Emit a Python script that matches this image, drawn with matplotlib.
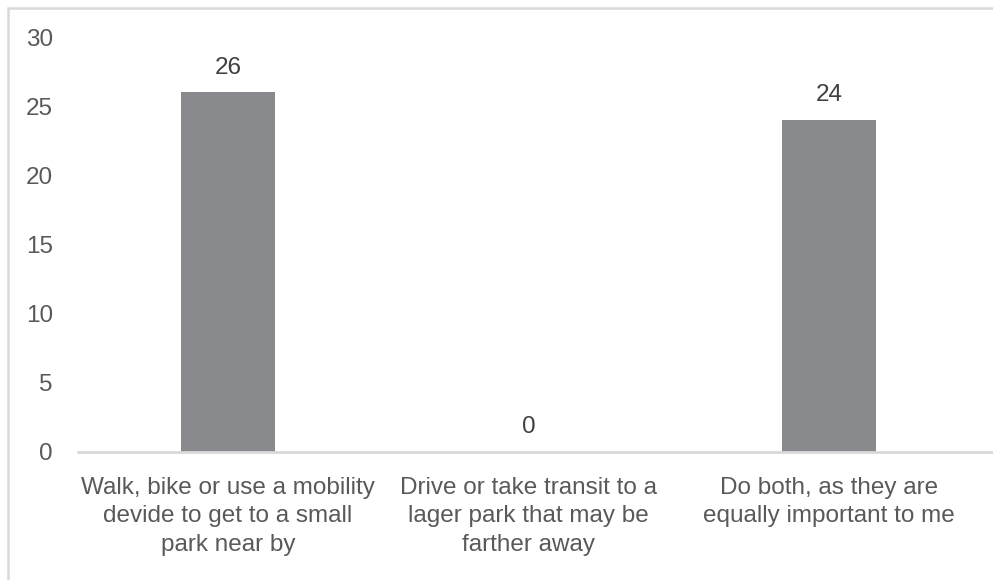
import matplotlib.pyplot as plt
from matplotlib.patches import Rectangle

categories = ["Walk, bike or use a mobility\ndevide to get to a small\npark near by",
              "Drive or take transit to a\nlager park that may be\nfarther away",
              "Do both, as they are\nequally important to me"]
values = [26, 0, 24]
yticks = [0, 5, 10, 15, 20, 25, 30]

W, H = 993, 580
plt.rcParams['font.family'] = ['Liberation Sans', 'DejaVu Sans']
txt = '#595959'
fs = 17.5

fig = plt.figure(figsize=(W / 100, H / 100), dpi=100)
# axes in pixels: left 78, right 993, bottom 452, top 37
ax = fig.add_axes([78 / W, (H - 452) / H, (993 - 78) / W, (452 - 37) / H])

x = list(range(len(categories)))
ax.bar(x, values, width=0.315, color='#898a8e', zorder=2)
for xi, v in zip(x, values):
    ax.annotate(str(v), (xi, v), xytext=(0, 13.5), textcoords='offset points',
                ha='center', va='baseline', fontsize=fs, color='#404040')

ax.set_ylim(0, 30)
ax.set_xlim(-(228 - 78) / 300.5, (993 - 228) / 300.5)
ax.set_yticks(yticks)
ax.set_xticks(x)
ax.set_xticklabels(categories, linespacing=1.37)
ax.tick_params(axis='y', length=0, pad=18, labelsize=fs, labelcolor=txt)
ax.tick_params(axis='x', length=0, pad=18, labelsize=fs, labelcolor=txt)

for s in ['top', 'right', 'left']:
    ax.spines[s].set_visible(False)
ax.spines['bottom'].set_color('#d9d9d9')
ax.spines['bottom'].set_linewidth(2)

# outer chart border (cut off at right and bottom)
fig.patches.append(Rectangle((8 / W, -0.1), 1.2, (H - 8) / H + 0.1,
                             transform=fig.transFigure, fill=False,
                             edgecolor='#d9d9d9', linewidth=1.8))

fig.savefig('out.png', dpi=100)
